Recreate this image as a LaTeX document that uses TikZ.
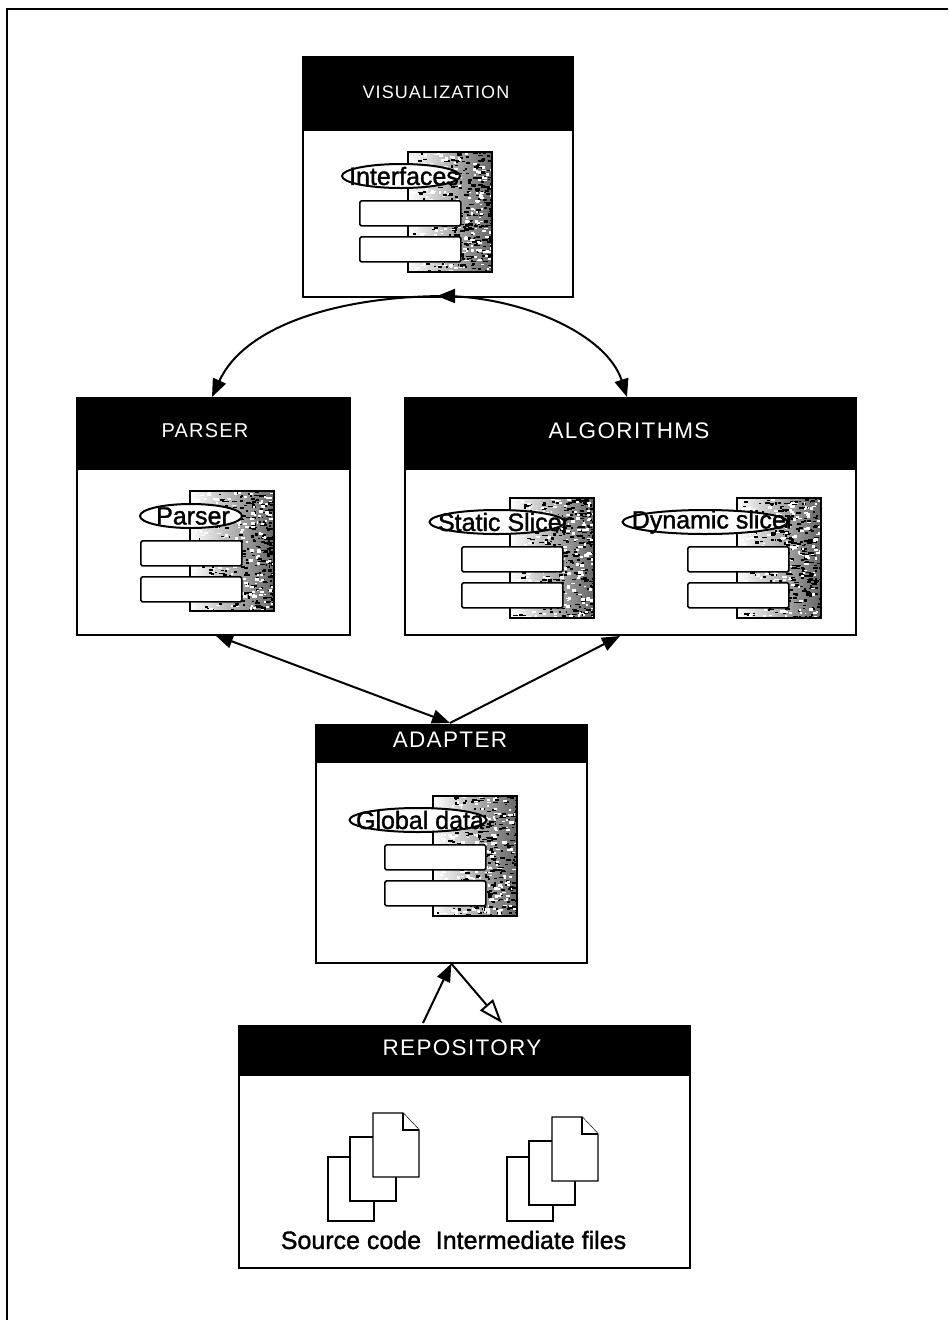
\documentclass[tikz,border=0pt]{standalone}
\usepackage{fontspec}
\setmainfont{Liberation Sans}
\newfontfamily\headfont[LetterSpace=6]{Liberation Sans}
\newfontfamily\heavyfont[FakeBold=1.4]{Liberation Sans}
\usetikzlibrary{arrows.meta,shapes.geometric}

\tikzset{
  panel/.style={draw, line width=1.6pt, fill=white, inner sep=0pt, anchor=north west},
  panelhead/.style={draw, fill=black, inner sep=0pt, anchor=north west},
  headlabel/.style={text=white, inner sep=0pt, font=\headfont\fontsize{22.5}{22.5}\selectfont},
  port/.style={draw, line width=1.7pt, fill=white, rounded corners=1.5pt, inner sep=0pt, minimum width=101pt, minimum height=25pt, anchor=north west},
  tag/.style={ellipse, draw, line width=2pt, fill=white, inner sep=0pt, minimum height=24pt},
  taglabel/.style={inner sep=0pt, font=\heavyfont\fontsize{25}{25}\selectfont},
  sheet/.style={draw, line width=1.3pt, fill=white},
  caption/.style={inner sep=0pt, font=\heavyfont\fontsize{25}{25}\selectfont},
  link/.style={line width=2pt, >={Triangle[length=18pt,width=14pt]}},
  hollowlink/.style={line width=2pt, >={Triangle[open,fill=white,length=24pt,width=17pt]}},
}

% component symbol: slab x, slab y, port x, first port y, name, tag x, tag width, label x, label
\newcommand{\component}[9]{
  \begin{scope}
    \clip (#1,#2) rectangle ++(84,120);
    \shade [left color=white, right color=black!60] (#1,#2) rectangle ++(84,120);
    \foreach \i in {1,...,300} {
      \pgfmathsetmacro{\dx}{84*pow(rnd,0.55)}
      \pgfmathsetmacro{\dy}{120*rnd}
      \fill (#1+\dx,#2+\dy) rectangle ++(1.5+4*rnd,1+1.5*rnd);
    }
    \foreach \i in {1,...,220} {
      \pgfmathsetmacro{\dx}{84*rnd}
      \pgfmathsetmacro{\dy}{120*rnd}
      \fill [white] (#1+\dx,#2+\dy) rectangle ++(1.5+3*rnd,1+2*rnd);
    }
  \end{scope}
  \draw [line width=2.2pt] (#1,#2) rectangle ++(84,120);
  \node [port] (#5a) at (#3,#4) {};
  \node [port] (#5b) at (#3,#4+36) {};
  \node [tag, minimum width=#7pt] (#5) at (#6,#4-24) {};
  \node [taglabel] (#5label) at (#8,#4-24) {#9};
}

% sheets of a stack
\newcommand{\plainsheet}[2]{
  \draw [sheet] (#1,#2) rectangle ++(46,64);
}
\newcommand{\foldsheet}[2]{
  \draw [sheet] (#1,#2) -- ++(30,0) -- ++(16,17) -- ++(0,47) -- ++(-46,0) -- cycle;
  \draw [sheet] (#1+30,#2) -- ++(0,17) -- ++(16,0);
}

\begin{document}
\begin{tikzpicture}[x=1pt, y=-1pt]
  \pgfmathsetseed{41}
  \useasboundingbox (0,0) rectangle (948,1320);

  % frame, open on two sides
  \coordinate (framea) at (7,1320);
  \coordinate (frameb) at (7,9);
  \coordinate (framec) at (948,9);
  \draw [line width=2.6pt] (framea) -- (frameb) -- (framec);

  % panels
  \node [panel, minimum width=270pt, minimum height=240pt] (visualization) at (302,56) {};
  \node [panelhead, minimum width=270pt, minimum height=74pt] (visualizationhead) at (302,56) {};
  \node [headlabel, font=\headfont\fontsize{18}{18}\selectfont] (visualizationlabel) at (436,92) {VISUALIZATION};

  \node [panel, minimum width=273pt, minimum height=237pt] (parser) at (76,397) {};
  \node [panelhead, minimum width=273pt, minimum height=72pt] (parserhead) at (76,397) {};
  \node [headlabel, font=\headfont\fontsize{20}{20}\selectfont] (parserlabel) at (205,431) {PARSER};

  \node [panel, minimum width=451pt, minimum height=237pt] (algorithms) at (404,397) {};
  \node [panelhead, minimum width=451pt, minimum height=72pt] (algorithmshead) at (404,397) {};
  \node [headlabel] (algorithmslabel) at (629,431) {ALGORITHMS};

  \node [panel, minimum width=271pt, minimum height=238pt] (adapter) at (315,724) {};
  \node [panelhead, minimum width=271pt, minimum height=38pt] (adapterhead) at (315,724) {};
  \node [headlabel] (adapterlabel) at (450,740) {ADAPTER};

  \node [panel, minimum width=451pt, minimum height=242pt] (repository) at (238,1025) {};
  \node [panelhead, minimum width=451pt, minimum height=50pt] (repositoryhead) at (238,1025) {};
  \node [headlabel] (repositorylabel) at (462,1048) {REPOSITORY};

  % components
  \component{408}{152}{359}{200}{interfaces}{401}{118}{404}{Interfaces}
  \component{190}{491}{140}{540}{parsertag}{191}{102}{193}{Parser}
  \component{510}{498}{461}{546}{staticslicer}{497}{135}{504}{Static Slicer}
  \component{737}{498}{687}{546}{dynamicslicer}{705}{165}{713}{Dynamic slicer}
  \component{433}{796}{384}{844}{globaldata}{418}{137}{420}{Global data}

  % documents
  \plainsheet{328}{1157}
  \plainsheet{350}{1137}
  \foldsheet{373}{1113}
  \plainsheet{507}{1157}
  \plainsheet{529}{1141}
  \foldsheet{552}{1117}
  \node [caption] (sourcecode) at (351,1240) {Source code};
  \node [caption] (intermediate) at (531,1240) {Intermediate files};

  % connectors
  \coordinate (visout) at (447,296);
  \coordinate (vistail) at (453,296);
  \coordinate (vistip) at (437,296);
  \coordinate (parsertop) at (212,397);
  \coordinate (algotop) at (627,397);
  \coordinate (parserdown) at (215,635);
  \coordinate (algodown) at (620,636);
  \coordinate (adapterup) at (450,723);
  \coordinate (repoleft) at (423,1023);
  \coordinate (reporight) at (502,1023);

  \draw [link, ->] (visout) .. controls (340,296) and (245,325) .. (parsertop);
  \draw [link, ->] (visout) .. controls (525,298) and (607,335) .. (algotop);
  \draw [link, ->] (vistail) -- (vistip);
  \draw [link, <->] (parserdown) -- (adapterup);
  \draw [link, ->] (adapterup) -- (algodown);
  \draw [link, ->] (repoleft) -- (adapter.south);
  \draw [hollowlink, ->] (adapter.south) -- (reporight);
\end{tikzpicture}
\end{document}
